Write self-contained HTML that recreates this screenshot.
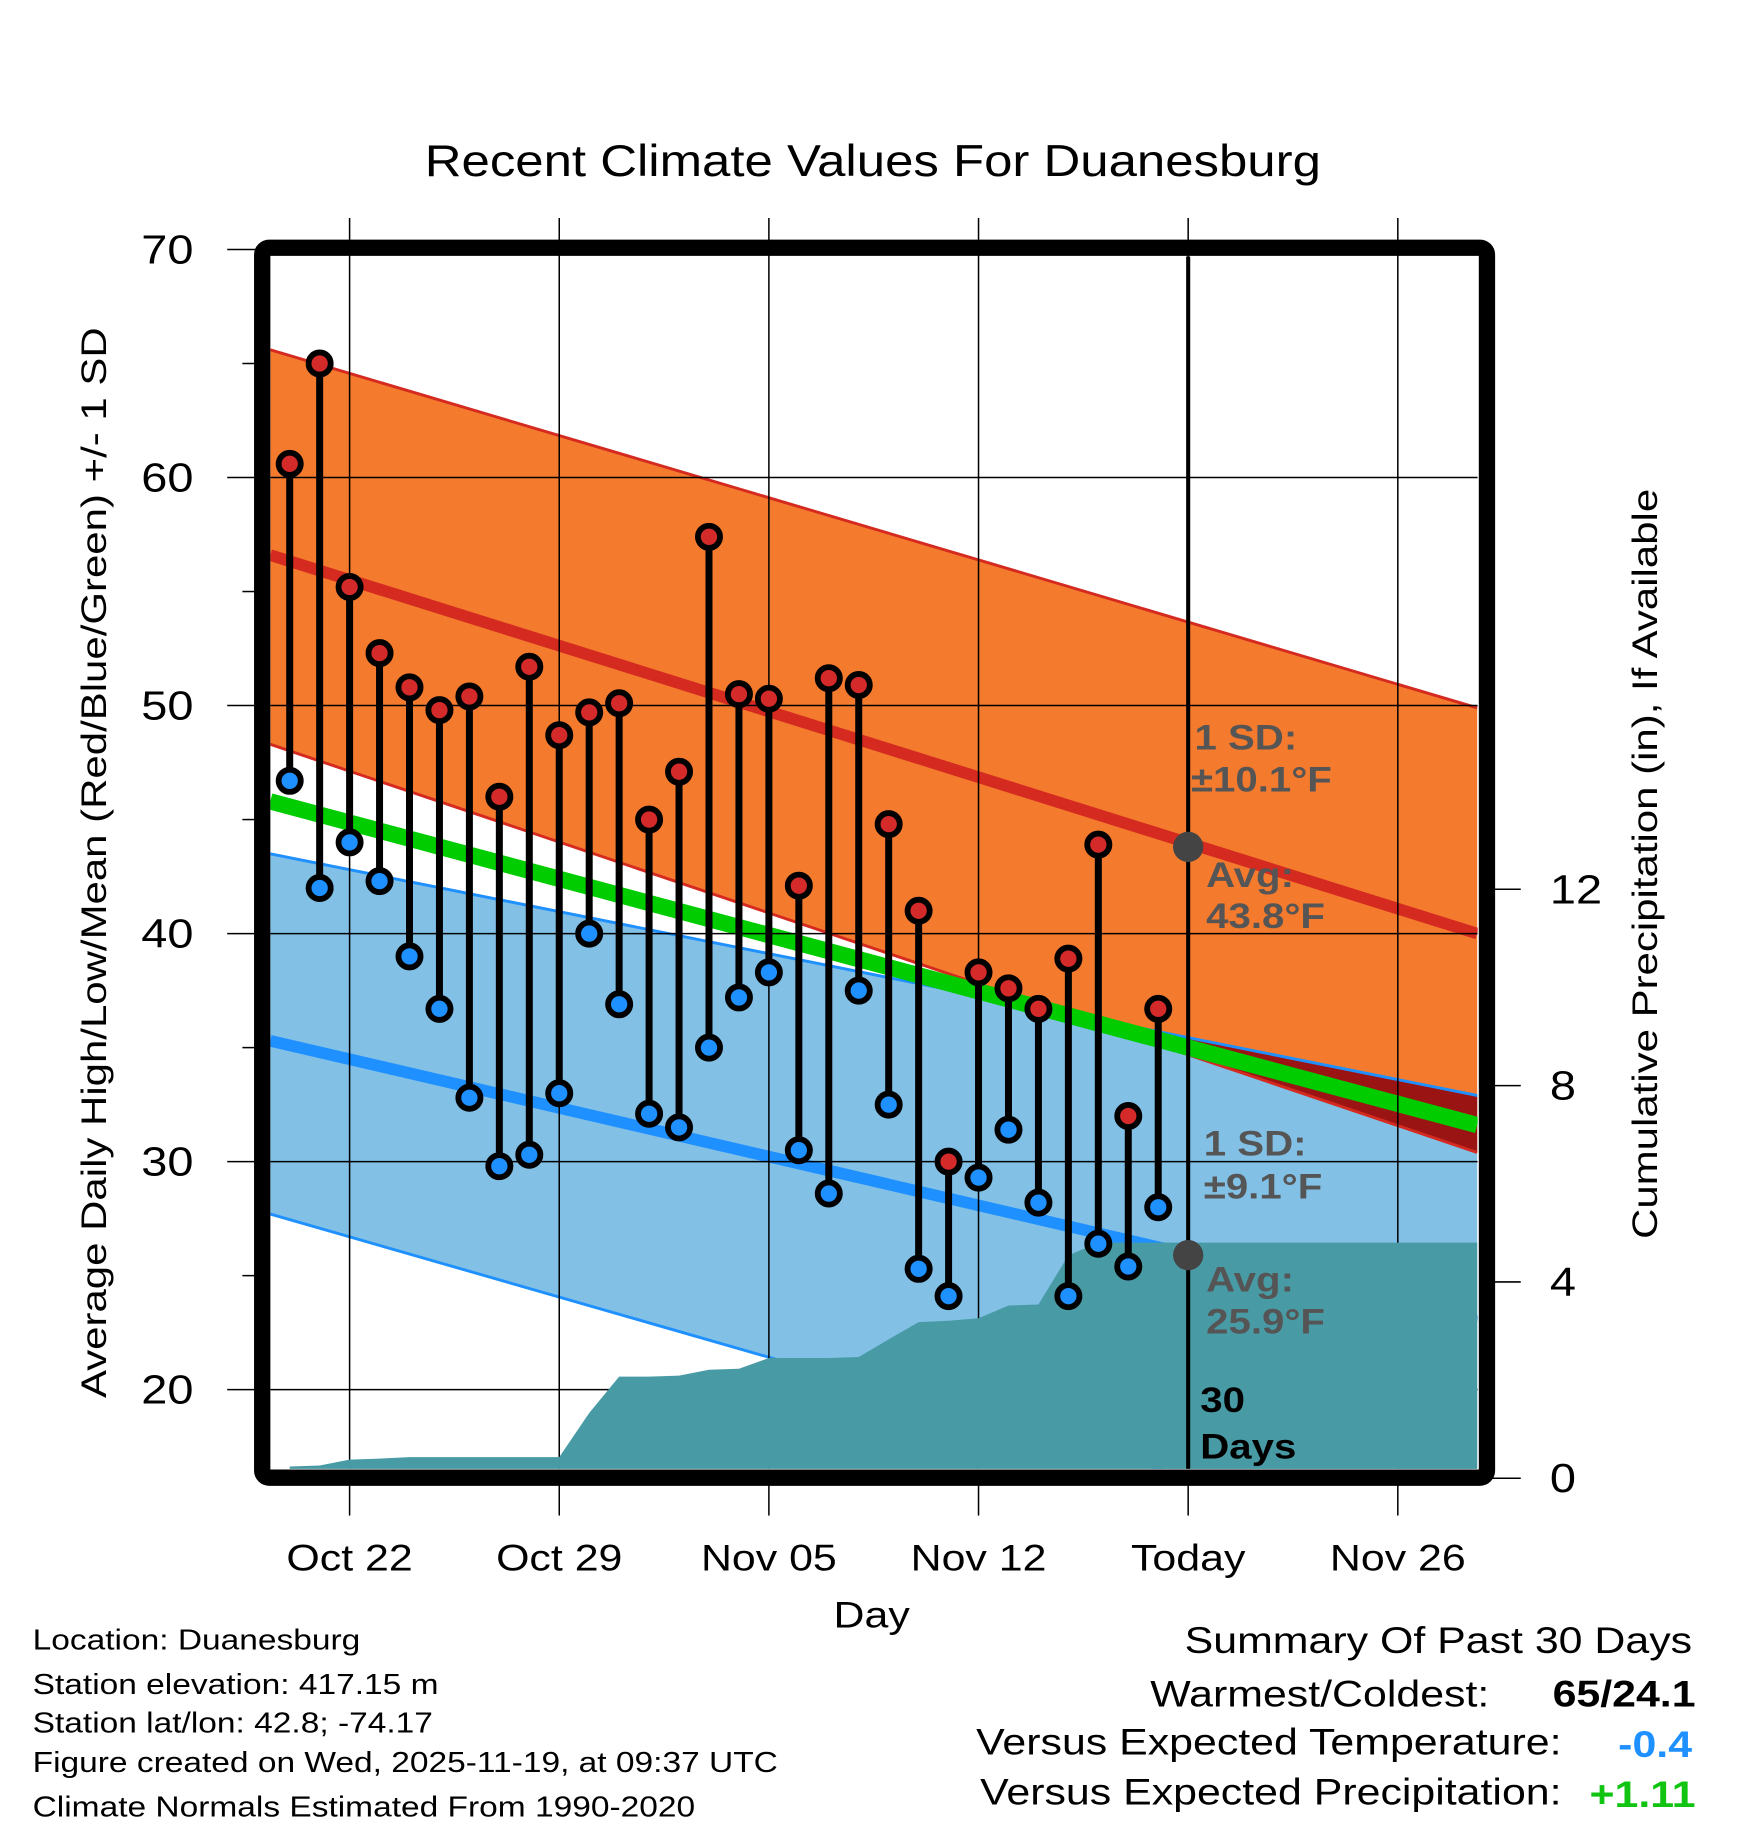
<!DOCTYPE html>
<html><head><meta charset="utf-8"><style>
html,body{margin:0;padding:0;background:#fff}
svg{display:block;font-family:"Liberation Sans",sans-serif}
</style></head><body>
<svg id="c" width="1748" height="1828" viewBox="0 0 1500 1568" preserveAspectRatio="none" xmlns="http://www.w3.org/2000/svg">
<defs><clipPath id="plotClip"><rect x="232" y="220" width="1036" height="1040"/></clipPath></defs>
<g id="plot" clip-path="url(#plotClip)"></g>
<g id="over"></g>
<text x="749" y="151" font-size="38" text-anchor="middle">Recent Climate Values For Duanesburg</text>
<text data-sx="1.2" transform="translate(91,740) rotate(-90)" font-size="30" text-anchor="middle">Average Daily High/Low/Mean (Red/Blue/Green) +/- 1 SD</text>
<text data-sx="1.2" transform="translate(1422,741) rotate(-90)" font-size="30" text-anchor="middle">Cumulative Precipitation (in), If Available</text>
<text x="748" y="1396" font-size="32" text-anchor="middle">Day</text>
<g font-size="25">
<text x="28" y="1415">Location: Duanesburg</text>
<text x="28" y="1453">Station elevation: 417.15 m</text>
<text x="28" y="1486">Station lat/lon: 42.8; -74.17</text>
<text x="28" y="1520">Figure created on Wed, 2025-11-19, at 09:37 UTC</text>
<text x="28" y="1558">Climate Normals Estimated From 1990-2020</text>
</g>
<g font-size="32" text-anchor="end">
<text x="1452" y="1418">Summary Of Past 30 Days</text>
<text x="1278" y="1464">Warmest/Coldest:</text>
<text x="1455" y="1464" font-weight="bold">65/24.1</text>
<text x="1340" y="1505">Versus Expected Temperature:</text>
<text x="1452" y="1507" font-weight="bold" fill="#1e90ff">-0.4</text>
<text x="1340" y="1548">Versus Expected Precipitation:</text>
<text x="1455" y="1550" font-weight="bold" fill="#11c411">+1.11</text>
</g>
</svg>
<script>
// ---- data ----
const dayOffsets = [-2,-1,0,1,2,3,4,5,6,7,8,9,10,11,12,13,14,15,16,17,18,19,20,21,22,23,24,25,26,27];
const highs = [60.6,65.0,55.2,52.3,50.8,49.8,50.4,46.0,51.7,48.7,49.7,50.1,45.0,47.1,57.4,50.5,50.3,42.1,51.2,50.9,44.8,41.0,30.0,38.3,37.6,36.7,38.9,43.9,32.0,36.7];
const lows = [46.7,42.0,44.0,42.3,39.0,36.7,32.8,29.8,30.3,33.0,40.0,36.9,32.1,31.5,35.0,37.2,38.3,30.5,28.6,37.5,32.5,25.3,24.1,29.3,31.4,28.2,24.1,26.4,25.4,28.0];
const precip = [0.24,0.26,0.38,0.40,0.43,0.43,0.43,0.43,0.43,0.43,1.33,2.07,2.07,2.09,2.21,2.23,2.45,2.45,2.45,2.47,2.83,3.18,3.21,3.26,3.52,3.54,4.54,4.80,4.80,4.80];
const normDays = [-2.65, 37.65];
const highUpper = [65.6, 49.9];
const highMean = [56.6, 40.0];
const highLower = [48.3, 30.4];
const lowUpper = [43.5, 32.9];
const lowMean = [35.3, 23.0];
const lowLower = [27.7, 12.5];
const meanLine = [45.8, 31.6];
const tempTicks = [20,30,40,50,60,70];
const precipTicks = [0,4,8,12];
const dateTickDays = [0,7,14,21,28,35];
const dateTickLabels = ["Oct 22","Oct 29","Nov 05","Nov 12","Today","Nov 26"];
const todayDay = 28;
const todayHighAvg = 43.8, todayLowAvg = 25.9;

// ---- axes ----
const xDay = d => 300 + d * 25.7;
const yT = v => 214 + (70 - v) * 19.56;
const yP = p => 1268 - p * 42.1;
const NS = "http://www.w3.org/2000/svg";
const plot = document.getElementById('plot');
const over = document.getElementById('over');
function mk(tag, attrs, parent){const e=document.createElementNS(NS,tag);for(const k in attrs)e.setAttribute(k,attrs[k]);(parent||plot).appendChild(e);return e;}
function band(up, lo){let p=normDays.map((d,i)=>xDay(d)+','+yT(up[i]));p=p.concat(normDays.map((d,i)=>xDay(d)+','+yT(lo[i])).reverse());return p.join(' ');}
function line(arr){return normDays.map((d,i)=>xDay(d)+','+yT(arr[i])).join(' ');}

let e;
e = mk('polygon',{points:band(lowUpper,lowLower),fill:'#82c0e6'});


e = mk('polygon',{points:band(highUpper,highLower),fill:'#f47a2e'});


{
  const d0=normDays[0],d1=normDays[1];
  const a0=lowUpper[0]-highLower[0], a1=lowUpper[1]-highLower[1];
  if (a0*a1<0){
    const t=a0/(a0-a1); const dc=d0+t*(d1-d0); const vc=highLower[0]+t*(highLower[1]-highLower[0]);
    const pts=[xDay(dc)+','+yT(vc), xDay(d1)+','+yT(lowUpper[1]), xDay(d1)+','+yT(highLower[1])];
    e = mk('polygon',{points:pts.join(' '),fill:'#9b1414'});
    
    
  }
}
[[highUpper,'#d42a1f'],[highLower,'#d42a1f'],[lowUpper,'#1e90ff'],[lowLower,'#1e90ff']].forEach(([a,c])=>{
  e = mk('polyline',{points:line(a),fill:'none',stroke:c,'stroke-width':2.5});
  
  
});
e = mk('polyline',{points:line(meanLine),fill:'none',stroke:'#00cc00','stroke-width':14});


e = mk('polyline',{points:line(highMean),fill:'none',stroke:'#d42a1f','stroke-width':10});


e = mk('polyline',{points:line(lowMean),fill:'none',stroke:'#1e90ff','stroke-width':10});



tempTicks.forEach(v=>{
  e = mk('line',{x1:195,x2:1268,y1:yT(v),y2:yT(v),stroke:'#000','stroke-width':1.3});
  
  
});
dateTickDays.forEach(d=>{
  e = mk('line',{x1:xDay(d),x2:xDay(d),y1:220,y2:1260,stroke:'#000','stroke-width':1.3});
  
  
});

{
  let pts=[xDay(dayOffsets[0])+','+yP(0)];
  dayOffsets.forEach((d,i)=>pts.push(xDay(d)+','+yP(precip[i])));
  pts.push(xDay(normDays[1])+','+yP(precip[precip.length-1]));
  pts.push(xDay(normDays[1])+','+yP(0));
  e = mk('polygon',{points:pts.join(' '),fill:'#489ba5'});
  
  
}

e = mk('line',{x1:xDay(todayDay),x2:xDay(todayDay),y1:220,y2:1260,stroke:'#000','stroke-width':3.5});



dayOffsets.forEach((d,i)=>{
  const x=xDay(d);
  e = mk('line',{x1:x,x2:x,y1:yT(highs[i]),y2:yT(lows[i]),stroke:'#000','stroke-width':6});
  
  
  e = mk('circle',{cx:x,cy:yT(highs[i]),r:9.5,fill:'#d42a2a',stroke:'#000','stroke-width':5});
  
  
  e = mk('circle',{cx:x,cy:yT(lows[i]),r:9.5,fill:'#1e90ff',stroke:'#000','stroke-width':5});
  
  
});

e = mk('circle',{cx:xDay(todayDay),cy:yT(todayHighAvg),r:13,fill:'#444'});


e = mk('circle',{cx:xDay(todayDay),cy:yT(todayLowAvg),r:13,fill:'#444'});



const ann=[['1 SD:',1025,643,'#555'],['\u00b110.1\u00b0F',1022,679,'#555'],['Avg:',1035,761,'#555'],['43.8\u00b0F',1035,796,'#555'],
['1 SD:',1033,991,'#555'],['\u00b19.1\u00b0F',1033,1028,'#555'],['Avg:',1035,1108,'#555'],['25.9\u00b0F',1035,1144,'#555'],['30',1030,1211,'#000'],['Days',1030,1251,'#000']];
ann.forEach(a=>{
  const t=mk('text',{x:a[1],y:a[2],'font-size':30,'font-weight':'bold',fill:a[3]},over);
  t.textContent=a[0];
  
  
});

dateTickDays.forEach((d,i)=>{
  e = mk('line',{x1:xDay(d),x2:xDay(d),y1:187,y2:220,stroke:'#000','stroke-width':1.3},over);
  
  
  e = mk('line',{x1:xDay(d),x2:xDay(d),y1:1270,y2:1300,stroke:'#000','stroke-width':1.3},over);
  
  
  const t=mk('text',{x:xDay(d),y:1347,'font-size':32,'text-anchor':'middle'},over);
  t.textContent=dateTickLabels[i];
  
  
});
for(let v=20; v<=70; v+=5){
  const major = v%10===0;
  e = mk('line',{x1:major?195:208,x2:220,y1:yT(v),y2:yT(v),stroke:'#000','stroke-width':1.3},over);
  
  
}
tempTicks.forEach(v=>{
  const t=mk('text',{x:166,y:yT(v)+12,'font-size':35,'text-anchor':'end'},over);
  t.textContent=v;
  
  
});
precipTicks.forEach(p=>{
  e = mk('line',{x1:1280,x2:1305,y1:yP(p),y2:yP(p),stroke:'#000','stroke-width':1.3},over);
  
  
  const t=mk('text',{x:1330,y:yP(p)+12,'font-size':35},over);
  t.textContent=p;
  
  
});
e = mk('rect',{x:225,y:212.5,width:1051,height:1055,rx:6,fill:'none',stroke:'#000','stroke-width':14},over);



// widen text to match reference glyph proportions
document.querySelectorAll('#c text').forEach(t=>{
  const sx = parseFloat(t.getAttribute('data-sx') || '1.15');
  const w = t.getComputedTextLength();
  if (w > 0) {
    t.setAttribute('textLength', (w*sx).toFixed(1));
    t.setAttribute('lengthAdjust', 'spacingAndGlyphs');
  }
});
</script>
</body></html>
